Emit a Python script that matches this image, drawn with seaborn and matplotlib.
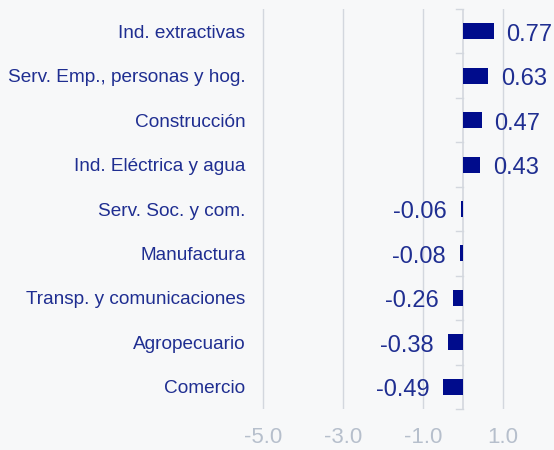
import seaborn as sns
import pandas as pd
import matplotlib.pyplot as plt

sectores = ["Ind. extractivas", "Serv. Emp., personas y hog.", "Construcción",
            "Ind. Eléctrica y agua", "Serv. Soc. y com.", "Manufactura",
            "Transp. y comunicaciones", "Agropecuario", "Comercio"]
valores = [0.77, 0.63, 0.47, 0.43, -0.06, -0.08, -0.26, -0.38, -0.49]
ticks = [-5.0, -3.0, -1.0, 1.0]

df = pd.DataFrame({"sector": sectores, "valor": valores})

bg = "#f7f8f9"
navy = "#000c8c"
txt = "#1f2e91"
grid = "#d3d7de"

plt.rcParams["font.family"] = ["Liberation Sans", "DejaVu Sans"]

fig = plt.figure(figsize=(5.54, 4.5), dpi=100, facecolor=bg)
ax = fig.add_axes([255 / 554, 1 - 409 / 450, 299 / 554, 400 / 450])
ax.set_facecolor(bg)

sns.barplot(data=df, x="valor", y="sector", orient="h", color=navy,
            width=0.36, saturation=1, ax=ax, zorder=3)

ax.set_xlim(-5.2, 2.275)
ax.set_ylim(len(sectores) - 0.5, -0.5)
ax.set_xticks(ticks)
ax.set_xticklabels([f"{t:.1f}" for t in ticks])
for t in ticks:
    ax.axvline(t, color=grid, lw=1, zorder=1)

# zero line with small ticks between categories
ax.axvline(0, color=grid, lw=1.2, zorder=2)
for i in range(len(sectores) + 1):
    ax.plot([-0.17, 0], [i - 0.5, i - 0.5], color=grid, lw=1, zorder=2,
            clip_on=False)

for s in ax.spines.values():
    s.set_visible(False)
ax.tick_params(axis="x", length=0, pad=13, labelsize=16, labelcolor="#b6bfcc")
ax.tick_params(axis="y", length=0, pad=7, labelsize=13.7, labelcolor=txt)
ax.set_xlabel("")
ax.set_ylabel("")

for i, v in enumerate(valores):
    if v >= 0:
        ax.annotate(f"{v:.2f}", xy=(v, i), xytext=(9, -2.5), textcoords="offset points",
                    ha="left", va="center", fontsize=17, color=txt, zorder=4)
    else:
        ax.annotate(f"{v:.2f}", xy=(v, i), xytext=(-10, -2.5), textcoords="offset points",
                    ha="right", va="center", fontsize=17, color=txt, zorder=4)

fig.savefig("out.png", dpi=100, facecolor=bg)
